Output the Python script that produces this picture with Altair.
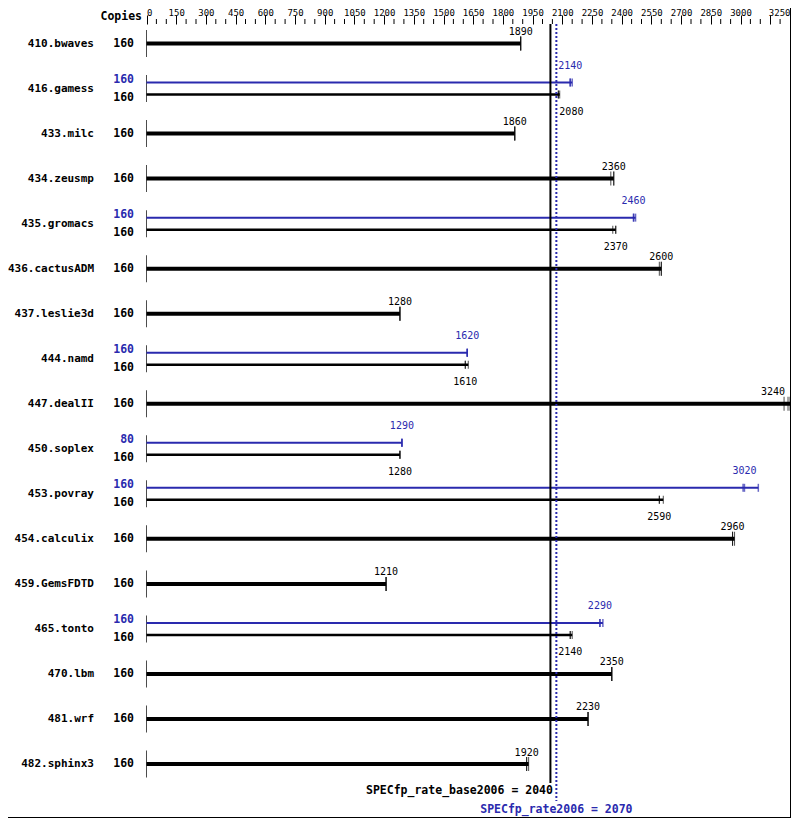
import altair as alt
import pandas as pd

# ---------------- data ----------------
benchmarks = ["410.bwaves", "416.gamess", "433.milc", "434.zeusmp", "435.gromacs",
              "436.cactusADM", "437.leslie3d", "444.namd", "447.dealII", "450.soplex",
              "453.povray", "454.calculix", "459.GemsFDTD", "465.tonto", "470.lbm",
              "481.wrf", "482.sphinx3"]

base_copies = [160, 160, 160, 160, 160, 160, 160, 160, 160, 160, 160, 160, 160, 160, 160, 160, 160]
base_med = [1890, 2080, 1860, 2360, 2370, 2600, 1280, 1610, 3240, 1280, 2590, 2960, 1210, 2140, 2350, 2230, 1920]
base_lo = [1890, 2080, 1860, 2345, 2355, 2590, 1280, 1610, 3220, 1280, 2590, 2960, 1210, 2140, 2350, 2230, 1920]
base_hi = [1890, 2087, 1860, 2360, 2370, 2600, 1280, 1625, 3250, 1280, 2610, 2970, 1210, 2150, 2350, 2230, 1930]

peak_copies = [None, 160, None, None, 160, None, None, 160, None, 80, 160, None, None, 160, None, None, None]
peak_med = [None, 2140, None, None, 2460, None, None, 1620, None, 1290, 3020, None, None, 2290, None, None, None]
peak_lo = [None, 2140, None, None, 2460, None, None, 1620, None, 1290, 3013, None, None, 2290, None, None, None]
peak_hi = [None, 2150, None, None, 2470, None, None, 1620, None, 1290, 3090, None, None, 2305, None, None, None]

axis_major = list(range(0, 3151, 150)) + [3250]
axis_minor = [v for v in range(0, 3251, 50) if v not in axis_major]

summary_kind = ["base", "peak"]
summary_names = ["SPECfp_rate_base2006", "SPECfp_rate2006"]
summary_values = [2040, 2070]

# ---------------- tables ----------------
BLUE = "#2a2aae"
MONO = "DejaVu Sans Mono"

records = []
for i, b in enumerate(benchmarks):
    if peak_med[i] is not None:
        records.append(dict(bench=b, row=i, slot="peak", copies=peak_copies[i],
                            lo=peak_lo[i], med=peak_med[i], hi=peak_hi[i]))
        records.append(dict(bench=b, row=i, slot="pair", copies=base_copies[i],
                            lo=base_lo[i], med=base_med[i], hi=base_hi[i]))
    else:
        records.append(dict(bench=b, row=i, slot="single", copies=base_copies[i],
                            lo=base_lo[i], med=base_med[i], hi=base_hi[i]))
df = pd.DataFrame(records)
df_bench = pd.DataFrame({"bench": benchmarks, "row": list(range(len(benchmarks)))})
df_minor = pd.DataFrame({"v": axis_minor})
df_hdr = pd.DataFrame({"t": ["Copies"]})
df_sum = pd.DataFrame({"kind": summary_kind, "name": summary_names, "value": summary_values})

xscale = alt.Scale(domain=[0, 3250], range=[138.5, 782], nice=False, zero=False)
xaxis = alt.Axis(orient="top", values=axis_major, tickSize=9, tickColor="black", tickWidth=1,
                 domain=False, grid=False, labelFlush=True, format="d",
                 labelExpr="datum.value == 3150 ? '' : datum.label",
                 labelFont=MONO, labelFontSize=9, labelColor="black", labelPadding=0,
                 labelBaseline="alphabetic",
                 labelOverlap=False, labelAngle=0, title=None)
yscale = alt.Scale(domain=[0, 16], range=[19.5, 740], nice=False, zero=False)


def X(f):
    return alt.X(f, type="quantitative", scale=xscale, axis=xaxis)


def Y():
    return alt.Y("row:Q", scale=yscale, axis=None)


base = alt.Chart(df)
layers = []

# minor axis ticks
layers.append(alt.Chart(df_minor).mark_rule(color="black", strokeWidth=1).encode(
    x=X("v:Q"), y=alt.value(-5), y2=alt.value(0)))

# per-row vertical axis segments
layers.append(alt.Chart(df_bench).transform_calculate(zero="0").mark_tick(
    orient="vertical", size=27, thickness=1, color="black").encode(x=X("zero:Q"), y=Y()))

near = f"abs(datum.med - {summary_values[0]}) < 70"

# slot: (bar offset, bar width, end tick size, end tick width, color, label offset, copies offset)
slots = {
    "single": (0, 4, 14, 1, "black", -11.5, 0),
    "peak": (-6, 2, 8, 1.5, BLUE, -17, -8.5),
    "pair": (6, 2.5, 8, 1, "black", 17, 9.5),
}
for s, (off, bw, ts, tw, col, loff, coff) in slots.items():
    sb = base.transform_filter(alt.datum.slot == s)
    layers.append(sb.transform_calculate(zero="0").mark_rule(
        strokeWidth=bw, color=col, yOffset=off).encode(
        x=X("zero:Q"), x2=alt.X2("hi:Q"), y=Y()))
    layers.append(sb.transform_fold(["lo", "med", "hi"], as_=["k", "v"]).mark_tick(
        orient="vertical", size=ts, thickness=tw, color=col, yOffset=off).encode(
        x=X("v:Q"), y=Y()))
    layers.append(sb.transform_filter(f"datum.med <= 3150 && !({near})").mark_text(
        font=MONO, fontSize=10, color=col, baseline="middle", align="center",
        yOffset=off + loff).encode(x=X("med:Q"), y=Y(), text=alt.Text("med:Q", format="d")))
    layers.append(sb.transform_filter(f"datum.med <= 3150 && ({near})").mark_text(
        font=MONO, fontSize=10, color=col, baseline="middle", align="left", dx=1,
        yOffset=off + loff).encode(x=X("med:Q"), y=Y(), text=alt.Text("med:Q", format="d")))
    layers.append(sb.transform_filter(alt.datum.med > 3150).mark_text(
        font=MONO, fontSize=10, color=col, baseline="middle", align="right", dx=-3,
        yOffset=off + loff).encode(x=X("med:Q"), y=Y(), text=alt.Text("med:Q", format="d")))
    layers.append(sb.mark_text(
        font=MONO, fontSize=11.5, fontWeight="bold", color=col, baseline="middle",
        align="right", yOffset=coff).encode(x=alt.value(126), y=Y(), text="copies:Q"))

# benchmark names
layers.append(alt.Chart(df_bench).mark_text(
    font=MONO, fontSize=11, fontWeight="bold", color="black", baseline="middle",
    align="right").encode(x=alt.value(86), y=Y(), text="bench:N"))

# header
layers.append(alt.Chart(df_hdr).mark_text(
    font=MONO, fontSize=11.5, fontWeight="bold", color="black", baseline="middle",
    align="right").encode(x=alt.value(134), y=alt.value(-7.5), text="t:N"))

# summary lines and labels
sm = alt.Chart(df_sum).transform_calculate(label="datum.name + ' = ' + datum.value")
layers.append(sm.transform_filter(alt.datum.kind == "base").mark_rule(
    color="black", strokeWidth=2).encode(x=X("value:Q"), y=alt.value(0), y2=alt.value(759)))
layers.append(sm.transform_filter(alt.datum.kind == "peak").mark_rule(
    color=BLUE, strokeWidth=2, strokeDash=[2, 2]).encode(
    x=X("value:Q"), y=alt.value(0), y2=alt.value(777)))
layers.append(sm.transform_filter(alt.datum.kind == "base").mark_text(
    font=MONO, fontSize=11.5, fontWeight="bold", color="black", baseline="middle",
    align="right", dx=2.5).encode(x=X("value:Q"), y=alt.value(767), text="label:N"))
layers.append(sm.transform_filter(alt.datum.kind == "peak").mark_text(
    font=MONO, fontSize=11.5, fontWeight="bold", color=BLUE, baseline="middle",
    align="center").encode(x=X("value:Q"), y=alt.value(786), text="label:N"))

# frame (right and bottom)
layers.append(alt.Chart(df_hdr).mark_rule(color="black", strokeWidth=1).encode(
    x=alt.value(782.5), y=alt.value(-16), y2=alt.value(794)))
layers.append(alt.Chart(df_hdr).mark_rule(color="black", strokeWidth=1).encode(
    x=alt.value(0), x2=alt.value(783), y=alt.value(793.5)))

chart = alt.layer(*layers).properties(
    width=783, height=794,
    autosize=alt.AutoSizeParams(type="none"),
    padding={"left": 0, "top": 16, "right": 0, "bottom": 0},
    background="white",
).configure_view(stroke=None)

chart.save("out.html", embed_options={"renderer": "svg", "actions": False})
